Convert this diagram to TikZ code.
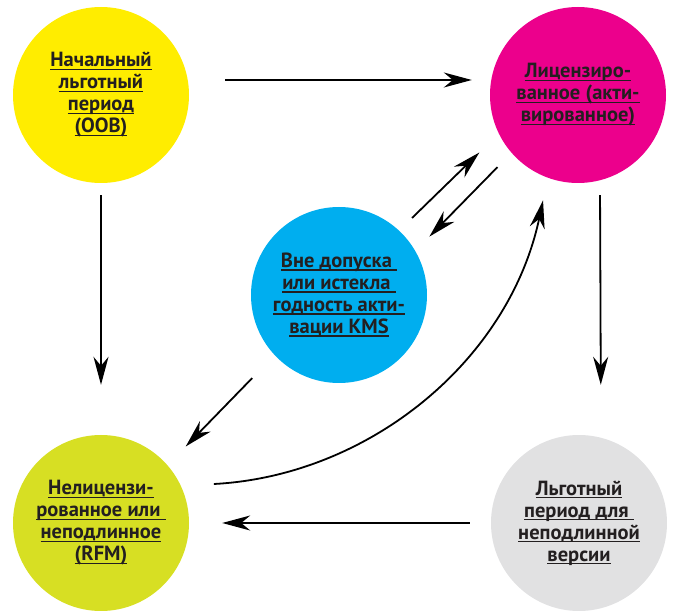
\documentclass[tikz,border=0pt]{standalone}
\usepackage{fontspec}
\setmainfont{PT Sans}
\usetikzlibrary{arrows.meta}

\definecolor{oobyellow}{HTML}{FFED00}
\definecolor{licmagenta}{HTML}{EC008C}
\definecolor{kmscyan}{HTML}{00AEEF}
\definecolor{rfmgreen}{HTML}{D7DF23}
\definecolor{gracegray}{HTML}{E1E1E2}
\definecolor{inkdark}{HTML}{231F20}

% underlined line of a label, rule at a fixed depth
\newcommand\uln[1]{\leavevmode\setbox0\hbox{#1}\rlap{\copy0}\rule[-3pt]{\wd0}{1.4pt}}

\begin{document}
\begin{tikzpicture}[x=1pt, y=1pt]
  % Styles
  \tikzset{phase/.style={circle, minimum size=176pt, inner sep=0pt, align=center,
      text=inkdark, font=\bfseries\fontsize{20.5}{22}\selectfont}}
  \tikzset{arr/.style={-{Stealth[length=28pt, width=15pt, inset=9pt]}, line width=1.8pt, draw=black}}

  \useasboundingbox (0,0) rectangle (673,611);

  % --- Nodes ---
  \node[phase, fill=oobyellow] (oob) at (101,516)
    {\uln{Начальный}\\\uln{льготный}\\\uln{период}\\\uln{(OOB)}};
  \node[phase, fill=licmagenta] (licensed) at (578,516)
    {\uln{Лицензиро-}\\\uln{ванное (акти-}\\\uln{вированное)}};
  \node[phase, fill=kmscyan] (kms) at (339,316)
    {\uln{Вне допуска\ }\\\uln{или истекла\ }\\\uln{годность акти-}\\\uln{вации KMS}};
  \node[phase, fill=rfmgreen] (rfm) at (101,88)
    {\uln{Нелицензи-}\\\uln{рованное или\ }\\\uln{неподлинное}\\\uln{(RFM)}};
  \node[phase, fill=gracegray] (grace) at (579,88)
    {\uln{Льготный}\\\uln{период для\ }\\\uln{неподлинной}\\\uln{версии}};

  % --- Transitions ---

  % outer square
  \path
    ([yshift=15pt]oob.east) edge [arr, shorten <=36pt, shorten >=18pt] ([yshift=15pt]licensed.west)
    (oob.south) edge [arr, shorten <=12pt, shorten >=50pt] (rfm.north)
    ([xshift=22pt]licensed.south) edge [arr, shorten <=12pt, shorten >=50pt] ([xshift=22pt]grace.north)
    (grace.west) edge [arr, shorten <=21pt, shorten >=33pt] (grace.west -| rfm.east);

  % KMS state in the middle
  \path
    (kms.47) edge [arr, shorten <=18pt, shorten >=27pt] (licensed.206)
    (licensed.221) edge [arr, shorten <=20pt, shorten >=20pt] (kms.30)
    (kms.223) edge [arr, shorten <=32pt, shorten >=26pt] (rfm.41);

  % back to licensed after activation
  \path
    (rfm.25) edge [arr, out=3, in=258, shorten <=33pt, shorten >=23pt] (licensed.250);

\end{tikzpicture}
\end{document}
